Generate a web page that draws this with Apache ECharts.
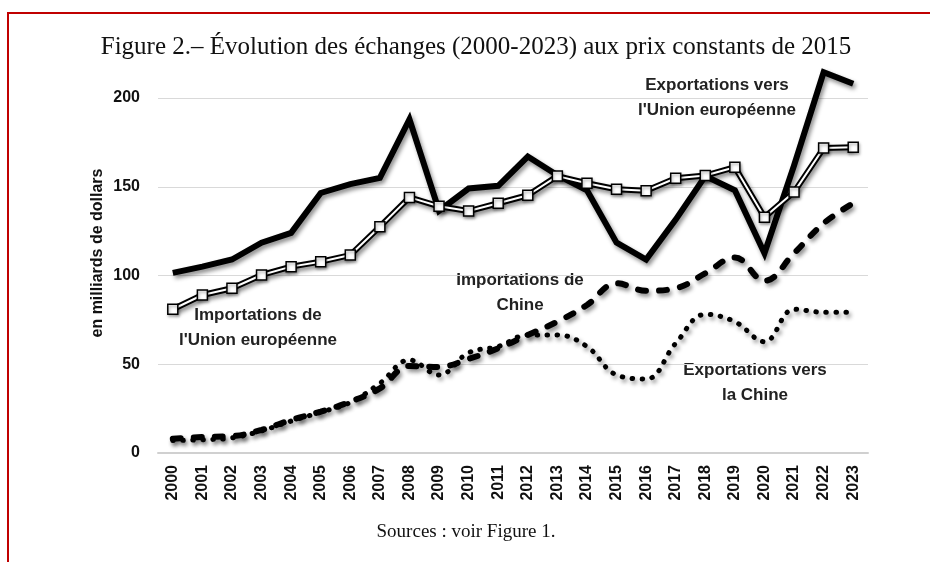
<!DOCTYPE html>
<html>
<head>
<meta charset="utf-8">
<script src="https://cdn.jsdelivr.net/npm/echarts@6/dist/echarts.min.js"></script>
<style>
  html, body { margin: 0; padding: 0; background: #fff; }
  #chart { width: 930px; height: 562px; }
</style>
</head>
<body>
<div id="chart"></div>
<script>
// years on the x axis
const years = ['2000', '2001', '2002', '2003', '2004', '2005', '2006', '2007', '2008', '2009', '2010', '2011',
  '2012', '2013', '2014', '2015', '2016', '2017', '2018', '2019', '2020', '2021', '2022', '2023']
const yTicks = [0, 50, 100, 150, 200]

// milliards de dollars, prix constants de 2015
const exportsEU = [101.5, 105, 109, 118.5, 124, 146.5, 151.5, 155, 188, 136.5, 149, 150.5,
  167, 156.5, 148, 118.5, 109, 131.5, 156, 148, 112.5, 162, 214.5, 208]
const importsEU = [81, 89, 92.8, 100.3, 105, 107.8, 111.5, 127.5, 144, 139, 136.3, 140.7,
  145.2, 156, 152, 148.6, 147.8, 154.8, 156.3, 161, 132.8, 147, 171.8, 172.2]
const importsChina = [8, 9, 9.5, 13, 18.6, 23.3, 28.9, 36.4, 49, 48.5, 53, 59,
  66.5, 74, 83.4, 95.6, 91.4, 92.8, 101.2, 110.2, 97, 112.5, 129.4, 140.7]
const exportsChina = [7, 7.5, 8.5, 12.5, 18, 23, 28.5, 39.3, 52.4, 44, 56.5, 60,
  66.5, 66.5, 60, 44, 41.7, 61.8, 78.1, 74, 62.7, 81, 79.3, 79.3]

const sans = 'Liberation Sans, Arial, sans-serif'
const serif = 'Liberation Serif, Times New Roman, serif'

// ombre portée commune (style Excel)
const shadow = {
  shadowColor: 'rgba(0,0,0,0.45)',
  shadowBlur: 4,
  shadowOffsetX: 2,
  shadowOffsetY: 3
}

const chart = echarts.init(document.getElementById('chart'), null, { renderer: 'canvas' })

const label = (text, x, y) => ({
  type: 'text',
  x: x,
  y: y,
  style: {
    text: text,
    font: 'bold 17px ' + sans,
    fill: '#222',
    textAlign: 'center',
    textVerticalAlign: 'middle',
    lineHeight: 25
  }
})

const option = {
  animation: false,
  backgroundColor: '#fff',
  grid: { left: 158, right: 62, top: 98, bottom: 109 },
  xAxis: {
    type: 'category',
    data: years,
    boundaryGap: true,
    axisLine: { lineStyle: { color: '#d0d0d0', width: 2 } },
    axisTick: { show: false },
    axisLabel: {
      rotate: 90,
      margin: 12,
      color: '#111',
      fontFamily: sans,
      fontWeight: 'bold',
      fontSize: 16
    }
  },
  yAxis: {
    type: 'value',
    min: yTicks[0],
    max: yTicks[yTicks.length - 1],
    interval: 50,
    axisLine: { show: false },
    axisTick: { show: false },
    splitLine: { lineStyle: { color: '#d9d9d9', width: 1 } },
    axisLabel: {
      margin: 18,
      color: '#111',
      fontFamily: sans,
      fontWeight: 'bold',
      fontSize: 16
    }
  },
  series: [
    {
      name: 'Exportations vers la Chine',
      type: 'line',
      data: exportsChina,
      smooth: 0.4,
      clip: false,
      showSymbol: false,
      lineStyle: Object.assign({ color: '#000', width: 5, type: [0.5, 9.5], cap: 'round' }, shadow)
    },
    {
      name: 'Importations de Chine',
      type: 'line',
      data: importsChina,
      smooth: 0.4,
      clip: false,
      showSymbol: false,
      lineStyle: Object.assign({ color: '#000', width: 6, type: [8, 13], cap: 'round' }, shadow)
    },
    {
      name: "Exportations vers l'Union européenne",
      type: 'line',
      data: exportsEU,
      clip: false,
      showSymbol: false,
      lineStyle: Object.assign({ color: '#000', width: 6, join: 'miter' }, shadow)
    },
    {
      // contour noir de la ligne double
      name: "Importations de l'Union européenne",
      type: 'line',
      data: importsEU,
      clip: false,
      showSymbol: false,
      lineStyle: Object.assign({ color: '#000', width: 6 }, shadow)
    },
    {
      // trait blanc intérieur + carrés
      name: "Importations de l'Union européenne (marqueurs)",
      type: 'line',
      data: importsEU,
      clip: false,
      symbol: 'rect',
      symbolSize: 10,
      showAllSymbol: true,
      lineStyle: { color: '#fff', width: 2 },
      itemStyle: { color: '#fff', borderColor: '#000', borderWidth: 1.5, shadowColor: 'rgba(0,0,0,0.35)', shadowBlur: 3, shadowOffsetX: 1, shadowOffsetY: 2 }
    }
  ],
  graphic: [
    {
      type: 'polyline',
      shape: { points: [[8, 562], [8, 13], [930, 13]] },
      style: { stroke: '#c00000', lineWidth: 2, fill: null }
    },
    {
      type: 'text',
      x: 476,
      y: 47,
      style: {
        text: 'Figure 2.– Évolution des échanges (2000-2023) aux prix constants de 2015',
        font: '25px ' + serif,
        fill: '#111',
        textAlign: 'center',
        textVerticalAlign: 'middle'
      }
    },
    {
      type: 'text',
      x: 466,
      y: 532,
      style: {
        text: 'Sources : voir Figure 1.',
        font: '19px ' + serif,
        fill: '#111',
        textAlign: 'center',
        textVerticalAlign: 'middle'
      }
    },
    {
      type: 'text',
      x: 98,
      y: 253,
      rotation: Math.PI / 2,
      style: {
        text: 'en milliards de dollars',
        font: 'bold 16px ' + sans,
        fill: '#111',
        textAlign: 'center',
        textVerticalAlign: 'middle'
      }
    },
    label("Exportations vers\nl'Union européenne", 717, 98),
    label("Importations de\nl'Union européenne", 258, 328),
    label('Importations de\nChine', 520, 293),
    label('Exportations vers\nla Chine', 755, 383)
  ]
}

chart.setOption(option)
</script>
</body>
</html>
